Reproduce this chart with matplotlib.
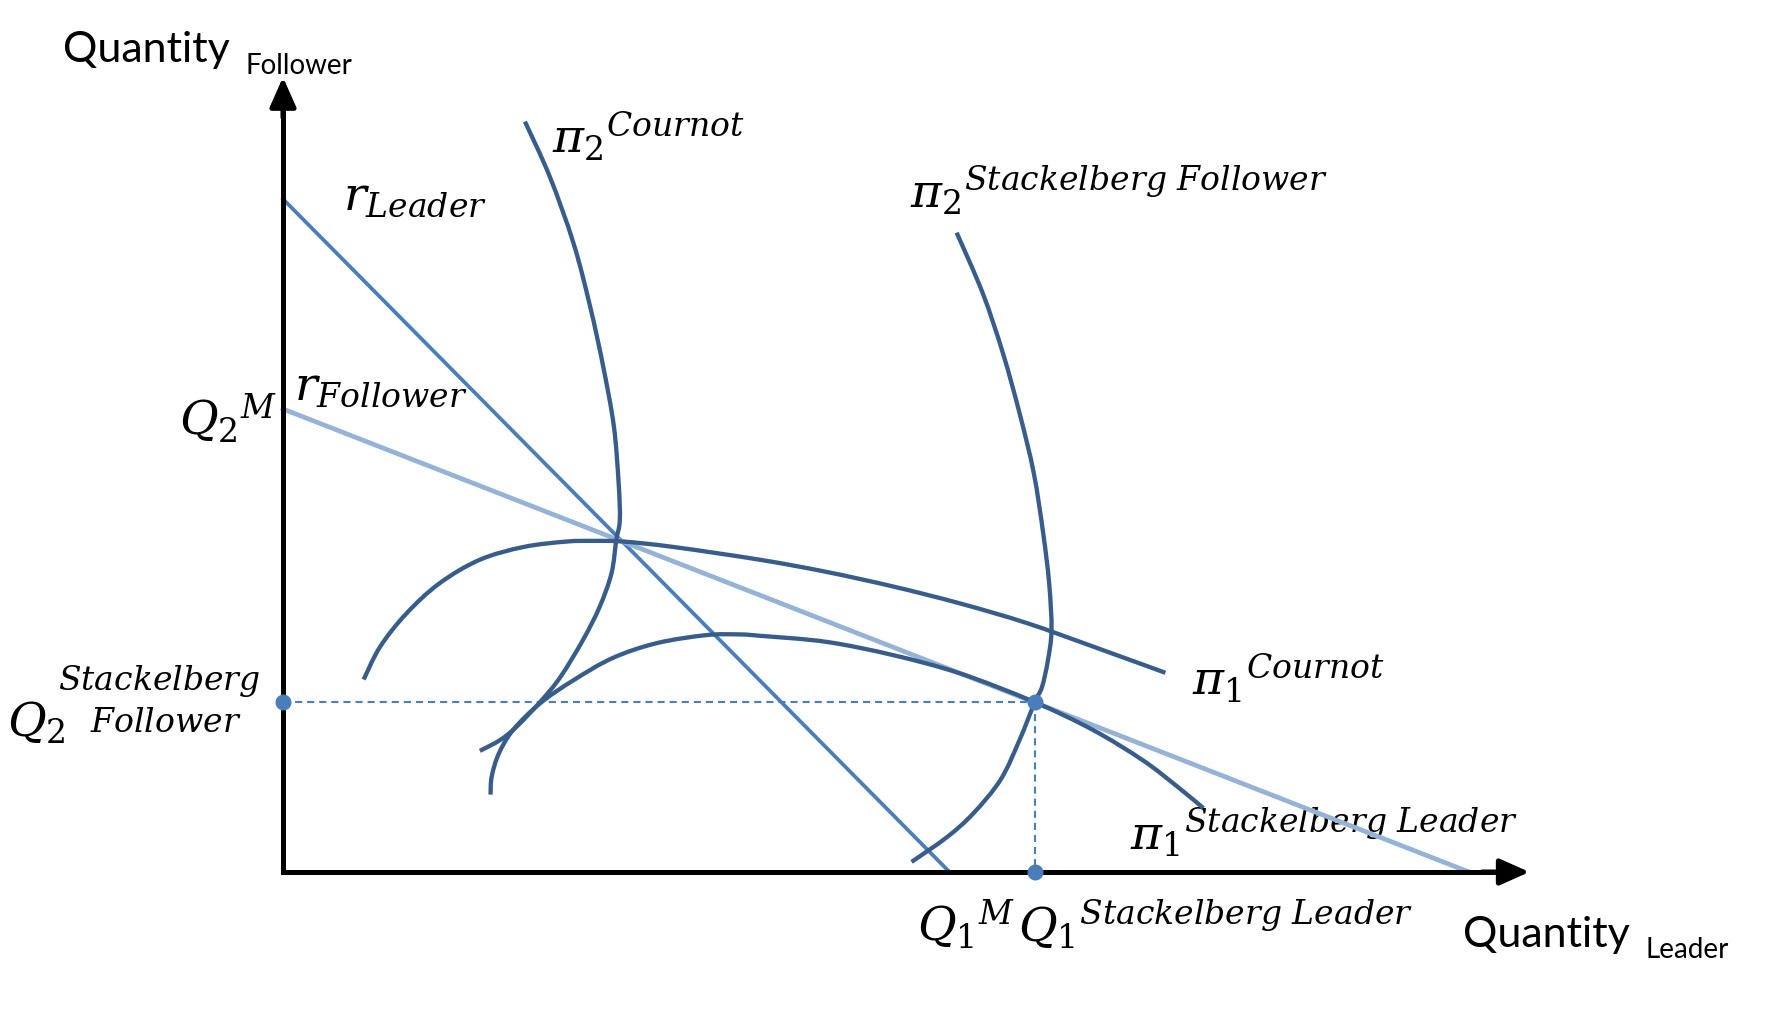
import matplotlib
matplotlib.use("Agg")
import matplotlib.pyplot as plt
import numpy as np
from matplotlib.path import Path
from matplotlib.patches import PathPatch

plt.rcParams["mathtext.fontset"] = "dejavuserif"

# axis units: quantity of leader (x) and follower (y), both 0..100 scale
# reaction functions (straight lines, intercepts)
r_leader_x = [0.0, 56.2]
r_leader_y = [100.0, 0.0]
r_follower_x = [0.0, 100.0]
r_follower_y = [68.8, 0.0]

# Stackelberg equilibrium
stack_q1 = 63.4
stack_q2 = 25.3

# isoprofit curves
pi2_cournot_x = [20.4, 22.5, 24.5, 25.9, 27.0, 27.9, 28.3, 28.4, 28.1, 27.7,
                 26.7, 25.3, 23.4, 21.7, 19.7, 18.3, 16.6]
pi2_cournot_y = [111.5, 103.3, 93.4, 84.0, 75.1, 66.2, 57.8, 52.3, 49.3, 44.4,
                 39.4, 34.5, 29.0, 25.3, 21.6, 19.6, 18.0]

pi1_cournot_x = [6.8, 8.2, 10.4, 13.2, 16.6, 20.3, 23.9, 26.2, 28.7, 32.9,
                 40.2, 45.8, 51.5, 57.1, 62.7, 68.3, 74.4]
pi1_cournot_y = [28.6, 33.5, 38.4, 42.9, 46.4, 48.3, 49.1, 49.2, 49.1, 48.3,
                 46.4, 44.6, 42.4, 39.9, 37.0, 33.5, 29.6]

pi1_leader_x = [17.5, 17.6, 18.2, 19.4, 21.7, 24.5, 27.8, 31.5, 35.7, 38.5,
                40.2, 45.8, 51.5, 57.1, 63.3, 68.3, 72.5, 75.4, 77.6]
pi1_leader_y = [11.5, 14.2, 17.6, 21.1, 25.1, 28.5, 31.8, 34.0, 35.2, 35.3,
                35.1, 34.2, 32.2, 29.5, 25.3, 21.1, 16.6, 12.7, 9.5]

pi2_follower_x = [56.8, 59.0, 60.7, 62.1, 63.3, 64.1, 64.6, 64.8, 64.5, 64.0,
                  63.4, 62.1, 60.5, 58.2, 56.0, 53.0]
pi2_follower_y = [95.0, 86.0, 77.1, 68.2, 59.3, 50.3, 42.9, 36.0, 31.5, 27.5,
                  25.3, 19.6, 13.7, 8.7, 5.2, 1.5]

x_axis_end = 105.1
y_axis_end = 118.1

DARK = "#385D8A"
MID = "#4A7EBB"
LIGHT = "#95B3D7"


def smooth_path(xs, ys):
    # catmull-rom through the read points, drawn as cubic beziers
    p = np.column_stack([xs, ys])
    p = np.vstack([p[0], p, p[-1]])
    verts = [p[1]]
    codes = [Path.MOVETO]
    for i in range(1, len(p) - 2):
        c1 = p[i] + (p[i + 1] - p[i - 1]) / 6.0
        c2 = p[i + 1] - (p[i + 2] - p[i]) / 6.0
        verts += [c1, c2, p[i + 1]]
        codes += [Path.CURVE4] * 3
    return Path(verts, codes)


fig = plt.figure(figsize=(17.82, 10.28), dpi=100)
ax = fig.add_axes([0, 0, 1, 1])
ax.set_xlim(-23.86, 126.39)
ax.set_ylim(-23.18, 129.57)
ax.axis("off")

# axes with arrows
ax.plot([0, 0, x_axis_end - 2], [y_axis_end - 3, 0, 0], color="black", lw=3.6,
        solid_joinstyle="miter", solid_capstyle="butt", zorder=5)
arrow = dict(arrowstyle="-|>,head_length=0.9,head_width=0.4", color="black",
             lw=3.6, mutation_scale=20, shrinkA=0, shrinkB=0)
ax.annotate("", xy=(0, y_axis_end), xytext=(0, y_axis_end - 6), arrowprops=arrow, zorder=5)
ax.annotate("", xy=(x_axis_end, 0), xytext=(x_axis_end - 4, 0), arrowprops=arrow, zorder=5)

# reaction functions
ax.plot(r_leader_x, r_leader_y, color=MID, lw=2.7, zorder=3)
ax.plot(r_follower_x, r_follower_y, color=LIGHT, lw=3.4, zorder=3)

# isoprofit curves
for xs, ys in [(pi2_cournot_x, pi2_cournot_y), (pi1_cournot_x, pi1_cournot_y),
               (pi1_leader_x, pi1_leader_y), (pi2_follower_x, pi2_follower_y)]:
    ax.add_patch(PathPatch(smooth_path(xs, ys), fill=False, edgecolor=DARK,
                           lw=3.1, capstyle="butt", zorder=4))

# Stackelberg guides
ax.plot([0, stack_q1], [stack_q2, stack_q2], color=MID, lw=1.5, dashes=(3.4, 2.4), zorder=3)
ax.plot([stack_q1, stack_q1], [stack_q2, 0], color=MID, lw=1.5, dashes=(3.4, 2.4), zorder=3)
ax.plot([0, stack_q1, stack_q1], [stack_q2, stack_q2, 0], ls="none", marker="o",
        ms=10.5, color=MID, zorder=6)

# labels
MS = 34
lab = dict(ha="left", va="baseline", fontsize=MS, color="black", zorder=2)
ax.text(5.06, 98.4, r"$r_{Leader}$", **lab)
ax.text(0.93, 70.1, r"$r_{Follower}$", **lab)
ax.text(22.66, 106.8, r"${\pi_2}^{Cournot}$", **lab)
ax.text(52.87, 98.7, r"${\pi_2}^{Stackelberg\ Follower}$", **lab)
ax.text(-8.8, 64.9, r"${Q_2}^{M}$", **lab)
ax.text(-23.3, 20.1, r"$Q_2$", **lab)
ax.text(-18.95, 27.0, r"$Stackelberg$", ha="left", va="baseline", fontsize=MS * 0.7)
ax.text(-16.27, 20.8, r"$Follower$", ha="left", va="baseline", fontsize=MS * 0.7)
ax.text(76.62, 26.3, r"${\pi_1}^{Cournot}$", **lab)
ax.text(71.42, 3.3, r"${\pi_1}^{Stackelberg\ Leader}$", **lab)
ax.text(53.43, -10.36, r"${Q_1}^{M}$", **lab)
ax.text(62.0, -10.36, r"${Q_1}^{Stackelberg\ Leader}$", **lab)

ax.text(-18.55, 120.4, "Quantity", fontfamily="Lato", fontsize=31, ha="left", va="baseline")
ax.text(-3.2, 118.6, "Follower", fontfamily="Lato", fontsize=20, ha="left", va="baseline")
ax.text(99.49, -11.1, "Quantity", fontfamily="Lato", fontsize=31, ha="left", va="baseline")
ax.text(114.84, -12.85, "Leader", fontfamily="Lato", fontsize=20, ha="left", va="baseline")

fig.savefig("out.png", dpi=100, facecolor="white")
